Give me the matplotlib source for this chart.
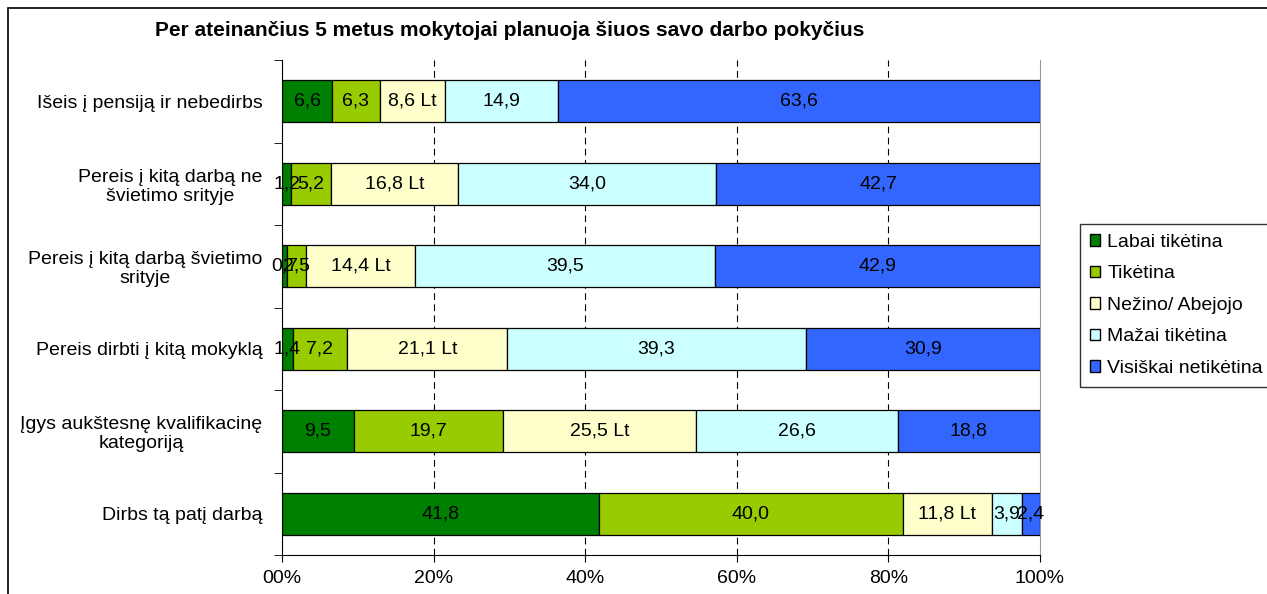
import matplotlib.pyplot as plt
from matplotlib.patches import Rectangle, Patch
import numpy as np

plt.rcParams['font.family'] = ['Liberation Sans', 'DejaVu Sans']

categories = [
    "Išeis į pensiją ir nebedirbs",
    "Pereis į kitą darbą ne\nšvietimo srityje",
    "Pereis į kitą darbą švietimo\nsrityje",
    "Pereis dirbti į kitą mokyklą",
    "Įgys aukštesnę kvalifikacinę\nkategoriją",
    "Dirbs tą patį darbą",
]
series_names = ["Labai tikėtina", "Tikėtina", "Nežino/ Abejojo", "Mažai tikėtina", "Visiškai netikėtina"]
labai = [6.6, 1.2, 0.7, 1.4, 9.5, 41.8]
tiketina = [6.3, 5.2, 2.5, 7.2, 19.7, 40.0]
nezino = [8.6, 16.8, 14.4, 21.1, 25.5, 11.8]
mazai = [14.9, 34.0, 39.5, 39.3, 26.6, 3.9]
visiskai = [63.6, 42.7, 42.9, 30.9, 18.8, 2.4]
colors = ["#008000", "#99CC00", "#FFFFCC", "#CCFFFF", "#3366FF"]
suffix = ["", "", " Lt", "", ""]
xtick_labels = ["00%", "20%", "40%", "60%", "80%", "100%"]

data = np.array([labai, tiketina, nezino, mazai, visiskai])
shares = data / data.sum(axis=0) * 100

fig = plt.figure(figsize=(12.67, 5.94), dpi=100)
ax = fig.add_axes([282 / 1267, 1 - 555 / 594, (1040 - 282) / 1267, (555 - 60) / 594])

# outer chart border (cropped on the right and bottom in the original)
fig.patches.append(Rectangle((8 / 1267, -0.1), 1.2, 1 - 8 / 594 + 0.1, transform=fig.transFigure,
                             fill=False, edgecolor="black", linewidth=1.2))

y = np.arange(len(categories))
left = np.zeros(len(categories))
for i, name in enumerate(series_names):
    ax.barh(y, shares[i], left=left, height=0.51, color=colors[i], edgecolor="black",
            linewidth=0.9, label=name, zorder=3)
    for j in range(len(categories)):
        txt = f"{data[i, j]:.1f}".replace(".", ",") + suffix[i]
        ax.text(left[j] + shares[i, j] / 2, y[j], txt, ha="center", va="center",
                fontsize=14, color="black", zorder=4)
    left += shares[i]

ax.set_xlim(0, 100)
ax.set_ylim(len(categories) - 0.5, -0.5)
ax.set_xticks([0, 20, 40, 60, 80, 100])
ax.set_xticklabels(xtick_labels, fontsize=14)
ax.set_yticks(y)
ax.set_yticklabels(categories, fontsize=14, multialignment="center", linespacing=1.15)
ax.set_yticks(np.arange(-0.5, len(categories)), minor=True)
ax.tick_params(axis="y", which="major", length=0, pad=14)
ax.tick_params(axis="y", which="minor", length=6, direction="out")
ax.tick_params(axis="x", length=5, direction="out", pad=6)

for xv in [20, 40, 60, 80]:
    ax.axvline(xv, color="black", linestyle=(0, (6, 4)), linewidth=0.8, zorder=1)
ax.spines["top"].set_visible(False)
ax.spines["right"].set_color("#999999")
ax.spines["left"].set_color("black")
ax.spines["bottom"].set_color("black")

fig.text(510 / 1267, 1 - 30 / 594, "Per ateinančius 5 metus mokytojai planuoja šiuos savo darbo pokyčius",
         ha="center", va="center", fontsize=15, fontweight="bold")

handles = [Patch(facecolor=c, edgecolor="black", label=n) for c, n in zip(colors, series_names)]
leg = fig.legend(handles=handles, loc="upper left", bbox_to_anchor=(1080 / 1267, 1 - 224 / 594),
                 fontsize=14, frameon=True, fancybox=False, edgecolor="black",
                 handlelength=0.55, handleheight=0.55, handletextpad=0.35, labelspacing=0.75,
                 borderpad=0.5, borderaxespad=0)
leg.get_frame().set_linewidth(1.0)

fig.savefig("out.png", dpi=100)
